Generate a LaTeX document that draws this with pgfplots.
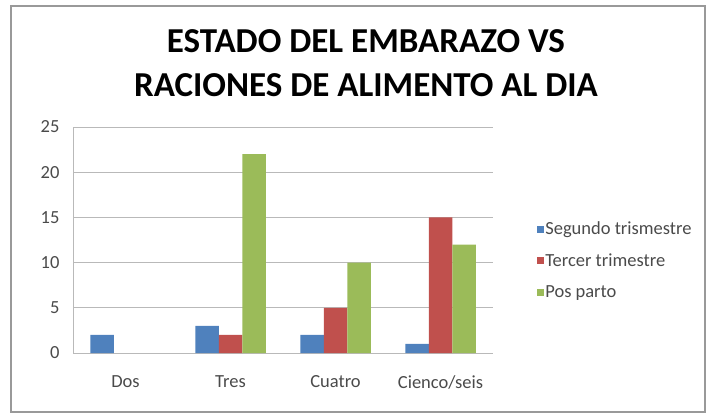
\documentclass[border=0pt]{standalone}
\usepackage{fontspec}
\setmainfont{Carlito}
\usepackage{pgfplots}
\pgfplotsset{compat=1.18}
\definecolor{cblue}{HTML}{4F81BD}
\definecolor{cred}{HTML}{C0504D}
\definecolor{cgreen}{HTML}{9BBB59}
\definecolor{tickgray}{HTML}{4A4A4A}
\begin{document}
\begin{tikzpicture}[x=1pt,y=1pt]
\useasboundingbox (0,0) rectangle (709,415);
\draw[color=gray!80, line width=1.2pt] (11,3) rectangle (705,409);
\node[anchor=base, font=\fontsize{35}{35}\selectfont\bfseries] at (366,362) {ESTADO DEL EMBARAZO VS};
\node[anchor=base, font=\fontsize{35}{35}\selectfont\bfseries] at (366,318) {RACIONES DE ALIMENTO AL DIA};
\begin{axis}[
  at={(73pt,62pt)}, anchor=south west,
  width=420pt, height=226pt, scale only axis,
  ybar=0pt, bar width=23.5pt,
  xmin=-0.5, xmax=3.5, ymin=0, ymax=25,
  xtick={0,1,2,3}, xticklabels={Dos,Tres,Cuatro,Cienco/seis},
  ytick={0,5,10,15,20,25},
  ymajorgrids, grid style={color=gray!55, line width=0.8pt},
  axis x line*=bottom, axis y line*=left,
  axis line style={color=gray!55, line width=0.8pt, -},
  major tick length=0pt,
  /pgf/number format/assume math mode=true,
  tick label style={font=\fontsize{18.5}{18.5}\selectfont, color=tickgray},
  xticklabel style={yshift=-19pt},
  yticklabel style={xshift=-10pt},
  legend style={at={(1.105,0.41)}, anchor=west, draw=none, fill=none,
    font=\fontsize{18.5}{18.5}\selectfont, text=tickgray,
    row sep=15.5pt, inner sep=0pt,
    nodes={inner sep=1pt}},
  legend cell align=left,
  legend image code/.code={\fill (0pt,-3.5pt) rectangle (7pt,3.5pt);},
]
\addplot[fill=cblue, draw=none] coordinates {(0,2) (1,3) (2,2) (3,1)};
\addplot[fill=cred, draw=none] coordinates {(1,2) (2,5) (3,15)};
\addplot[fill=cgreen, draw=none] coordinates {(1,22) (2,10) (3,12)};
\legend{Segundo trismestre, Tercer trimestre, Pos parto}
\end{axis}
\end{tikzpicture}
\end{document}
